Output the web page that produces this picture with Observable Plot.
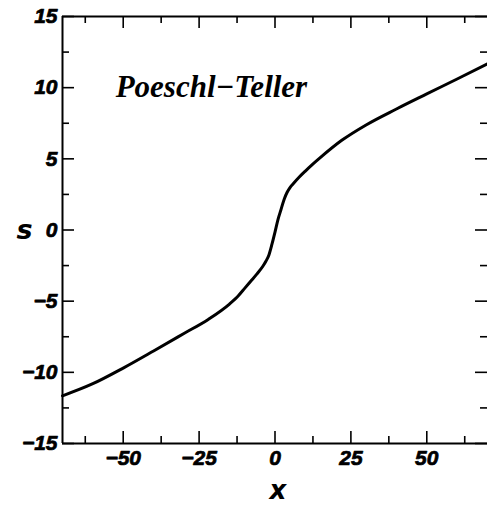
<!DOCTYPE html>
<html><head><meta charset="utf-8">
<script src="https://cdn.jsdelivr.net/npm/d3@7"></script>
<script src="https://cdn.jsdelivr.net/npm/@observablehq/plot@0.6"></script>
<style>html,body{margin:0;padding:0;background:#fff;overflow:hidden}</style>
</head><body><div id="chart"></div>
<script>
// Curve
const xValues = [-70, -60, -50, -40, -30, -22, -15, -12, -10, -8, -6, -4, -3, -2, -1, 0, 1, 2, 3, 4, 5, 6, 8, 10, 12, 15, 22, 30, 40, 50, 60, 70];
const sValues = [-11.65, -10.8, -9.7, -8.5, -7.27, -6.28, -5.2, -4.6, -4.1, -3.6, -3.1, -2.55, -2.2, -1.75, -1.0, -0.15, 0.75, 1.45, 2.15, 2.65, 3.0, 3.25, 3.72, 4.14, 4.54, 5.1, 6.3, 7.38, 8.5, 9.56, 10.61, 11.67];

const xDomain = [-70, 70];
const yDomain = [-15, 15];
const xMajorTicks = [-50, -25, 0, 25, 50];
const xMinorTicks = [-62.5, -37.5, -12.5, 12.5, 37.5, 62.5];
const yMajorTicks = [-15, -10, -5, 0, 5, 10, 15];
const yMinorTicks = [-12.5, -7.5, -2.5, 2.5, 7.5, 12.5];
const annotationText = ["Poeschl\u2212Teller"];
const annotationX = [-52.5];
const annotationY = [10.05];
const xLabel = ["x"];
const yLabel = ["s"];

const W = 487, H = 506, mL = 62, mT = 16, mB = 63, mR = 0;
const innerW = W - mL - mR, innerH = H - mT - mB;
const MAJ = 12, MIN = 7;

const curve = xValues.map((x, i) => ({x, s: sValues[i]}));
const annot = annotationText.map((t, i) => ({t, x: annotationX[i], y: annotationY[i]}));
const fmt = d => (d < 0 ? "\u2212" + Math.abs(d) : String(d));
const tickFont = {fontSize: 21, fontWeight: "bold", fontStyle: "italic", fontFamily: "Liberation Sans", fill: "black", stroke: "black", strokeWidth: 0.7};

const chart = Plot.plot({
  width: W, height: H,
  marginLeft: mL, marginTop: mT, marginBottom: mB, marginRight: mR,
  style: {fontFamily: "Liberation Sans", fontWeight: "bold", fontStyle: "italic", background: "white", color: "black", overflow: "visible"},
  x: {domain: xDomain, axis: null},
  y: {domain: yDomain, axis: null},
  marks: [
    // tick labels
    Plot.text(xMajorTicks, {x: d => d, frameAnchor: "bottom", dy: 7, lineAnchor: "top", text: fmt, ...tickFont}),
    Plot.text(yMajorTicks, {y: d => d, frameAnchor: "left", dx: -5, textAnchor: "end", lineAnchor: "middle", text: fmt, ...tickFont}),
    // inward ticks: bottom
    Plot.ruleX(xMajorTicks, {x: d => d, insetTop: innerH - MAJ, strokeWidth: 1.6}),
    Plot.ruleX(xMinorTicks, {x: d => d, insetTop: innerH - MIN, strokeWidth: 1.6}),
    // top
    Plot.ruleX(xMajorTicks, {x: d => d, insetBottom: innerH - MAJ, strokeWidth: 1.6}),
    Plot.ruleX(xMinorTicks, {x: d => d, insetBottom: innerH - MIN, strokeWidth: 1.6}),
    // left
    Plot.ruleY(yMajorTicks, {y: d => d, insetRight: innerW - MAJ, strokeWidth: 1.6}),
    Plot.ruleY(yMinorTicks, {y: d => d, insetRight: innerW - MIN, strokeWidth: 1.6}),
    // right
    Plot.ruleY(yMajorTicks, {y: d => d, insetLeft: innerW - MAJ, strokeWidth: 1.6}),
    Plot.ruleY(yMinorTicks, {y: d => d, insetLeft: innerW - MIN, strokeWidth: 1.6}),
    // frame lines (left, top, bottom)
    Plot.ruleX([xDomain[0]], {strokeWidth: 2}),
    Plot.ruleY(yDomain, {strokeWidth: 2}),
    // curve
    Plot.line(curve, {x: "x", y: "s", curve: "monotone-x", stroke: "black", strokeWidth: 3}),
    // annotation
    Plot.text(annot, {x: "x", y: "y", text: "t", textAnchor: "start", lineAnchor: "middle",
      fontFamily: "Liberation Serif", fontWeight: "bold", fontStyle: "italic", fontSize: 31, fill: "black"}),
    // axis labels
    Plot.text(yLabel, {frameAnchor: "left", dx: -46, text: d => d, fontFamily: "DejaVu Sans", fontSize: 27, fontWeight: "bold", fontStyle: "italic", fill: "black"}),
    Plot.text(xLabel, {frameAnchor: "bottom", dx: 3, dy: 47, lineAnchor: "middle", text: d => d, fontFamily: "DejaVu Sans", fontSize: 26, fontWeight: "bold", fontStyle: "italic", fill: "black"})
  ]
});
document.getElementById("chart").appendChild(chart);
</script>
</body></html>
